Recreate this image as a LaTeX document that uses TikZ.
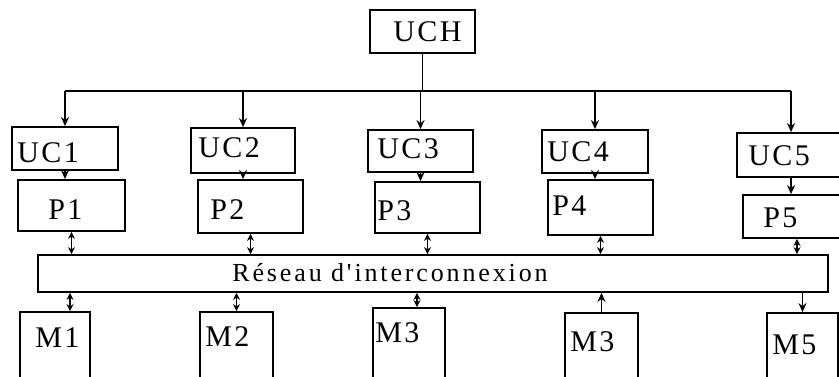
\documentclass[tikz,border=0pt]{standalone}
\usepackage{fontspec}
\setmainfont{Liberation Serif}
\newfontfamily\boxfont[LetterSpace=8]{Liberation Serif}
\newfontfamily\netfont[LetterSpace=11]{Liberation Serif}
\usetikzlibrary{arrows.meta}

\begin{document}
\begin{tikzpicture}[x=0.5pt,y=-0.5pt,
  unit/.style={draw,line width=0.9pt,inner sep=0pt},
  tag/.style={anchor=west,inner sep=0pt,font=\boxfont\fontsize{15pt}{18pt}\selectfont},
  link/.style={line width=0.9pt,-{Stealth[length=4.5pt,width=4pt]}},
  both/.style={line width=0.9pt,{Stealth[length=3.5pt,width=3.5pt]}-{Stealth[length=3.5pt,width=3.5pt]}}
]
\useasboundingbox (0,0) rectangle (839,376);
\clip (0,0) rectangle (839,376);

% control unit on top
\node[unit,minimum width=52.5pt,minimum height=21.5pt] (uch) at (422.5,31.5) {};
\node[tag] (uch-t) at (393,32) {UCH};
\coordinate (bus) at (0,91);

% control units
\node[unit,minimum width=53pt,minimum height=21.5pt] (uc1) at (65,148.5) {};
\node[unit,minimum width=52pt,minimum height=22.5pt] (uc2) at (243,150.5) {};
\node[unit,minimum width=52.5pt,minimum height=21pt] (uc3) at (420.5,151) {};
\node[unit,minimum width=53pt,minimum height=21.5pt] (uc4) at (595,151.5) {};
\node[unit,minimum width=54pt,minimum height=22pt] (uc5) at (791,155) {};
\node[tag] (uc1-t) at (17,153) {UC1};
\node[tag] (uc2-t) at (198,148) {UC2};
\node[tag] (uc3-t) at (377,149) {UC3};
\node[tag] (uc4-t) at (547,152) {UC4};
\node[tag] (uc5-t) at (748,156) {UC5};

% processors
\node[unit,minimum width=53.5pt,minimum height=25.5pt] (p1) at (71.5,205.5) {};
\node[unit,minimum width=52.5pt,minimum height=26.5pt] (p2) at (250.5,206.5) {};
\node[unit,minimum width=52.5pt,minimum height=25.5pt] (p3) at (427.5,207.5) {};
\node[unit,minimum width=52.5pt,minimum height=27.5pt] (p4) at (600.5,207.5) {};
\node[unit,minimum width=54pt,minimum height=21.5pt] (p5) at (797,216.5) {};
\node[tag] (p1-t) at (48,210) {P1};
\node[tag] (p2-t) at (210,210) {P2};
\node[tag] (p3-t) at (377,211) {P3};
\node[tag] (p4-t) at (552,206) {P4};
\node[tag] (p5-t) at (763,218) {P5};

% interconnection network
\node[unit,minimum width=395pt,minimum height=18.5pt] (net) at (433,273.5) {};
\node[anchor=west,inner sep=0pt,font=\netfont\fontsize{13pt}{15pt}\selectfont] (net-t) at (232,273) {Réseau d'interconnexion};

% memories
\node[unit,minimum width=35pt,minimum height=44pt] (m1) at (55,356) {};
\node[unit,minimum width=36.5pt,minimum height=44pt] (m2) at (236.5,356) {};
\node[unit,minimum width=36pt,minimum height=46pt] (m3) at (409,354) {};
\node[unit,minimum width=36.5pt,minimum height=43.5pt] (m4) at (601.5,356.5) {};
\node[unit,minimum width=35.5pt,minimum height=43.5pt] (m5) at (802.5,356.5) {};
\node[tag] (m1-t) at (35,338) {M1};
\node[tag] (m2-t) at (205,337) {M2};
\node[tag] (m3-t) at (375,333) {M3};
\node[tag] (m4-t) at (570,342) {M3};
\node[tag] (m5-t) at (772,345) {M5};

% broadcast from UCH
\draw[line width=0.9pt] (uch.south) -- (uch.south |- bus);
\draw[line width=0.9pt] (uc1.north |- bus) -- (uc5.north |- bus);
\draw[link] (uc1.north |- bus) -- (uc1.north);
\draw[link] (uc2.north |- bus) -- (uc2.north);
\draw[link] (uc3.north |- bus) -- (uc3.north);
\draw[link] (uc4.north |- bus) -- (uc4.north);
\draw[link] (uc5.north |- bus) -- (uc5.north);

% UC -> P
\draw[link] (uc1.south) -- (uc1.south |- p1.north);
\draw[link] (uc2.south) -- (uc2.south |- p2.north);
\draw[link] (uc3.south) -- (uc3.south |- p3.north);
\draw[link] (uc4.south) -- (uc4.south |- p4.north);
\draw[link] (uc5.south) -- (uc5.south |- p5.north);

% P <-> network
\draw[both] (p1.south) -- (p1.south |- net.north);
\draw[both] (p2.south) -- (p2.south |- net.north);
\draw[both] (p3.south) -- (p3.south |- net.north);
\draw[both] (p4.south) -- (p4.south |- net.north);
\draw[both] (p5.south) -- (p5.south |- net.north);

% network <-> memories
\draw[both] ([xshift=7.5pt]m1.north) -- ([xshift=7.5pt]m1.north |- net.south);
\draw[both] (m2.north) -- (m2.north |- net.south);
\draw[both] ([xshift=4pt]m3.north) -- ([xshift=4pt]m3.north |- net.south);
\draw[link] (m4.north) -- (m4.north |- net.south);
\draw[link] (m5.north |- net.south) -- (m5.north);
\end{tikzpicture}
\end{document}
